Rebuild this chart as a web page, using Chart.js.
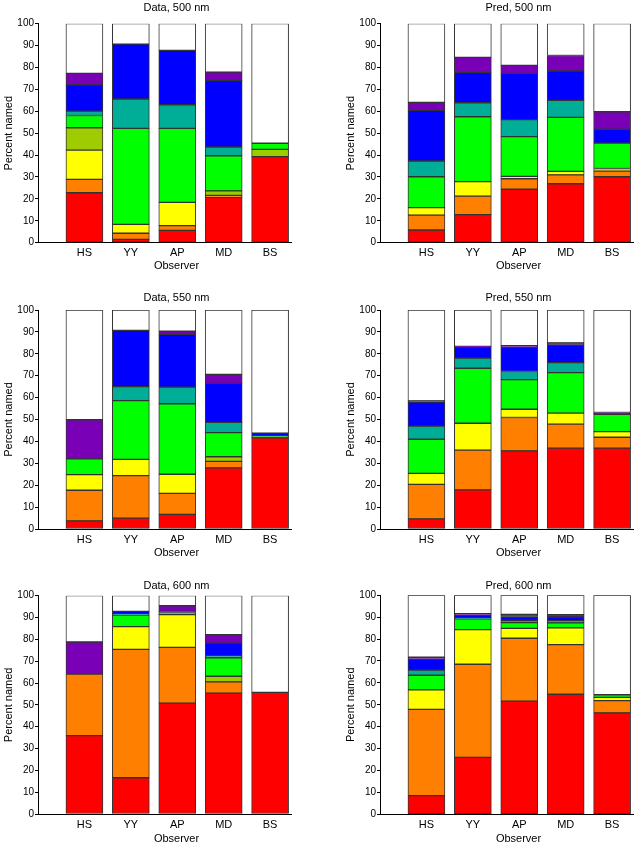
<!DOCTYPE html>
<html>
<head>
<meta charset="utf-8">
<script src="https://cdn.jsdelivr.net/npm/chart.js@4.4.0/dist/chart.umd.min.js"></script>
<style>
  body { margin: 0; background: #fff; width: 634px; height: 851px; position: relative; overflow: hidden; }
  canvas { position: absolute; }
</style>
</head>
<body>
<script>
// observers on the x axis
const observers = ['HS', 'YY', 'AP', 'MD', 'BS'];
const yTickStep = 10;

// colour names, bottom of the stack first
const colourNames = ['red', 'orange', 'yellow', 'yellowgreen', 'green', 'teal', 'blue', 'purple', 'white'];
const colours = ['#ff0000', '#ff8000', '#ffff00', '#9fcc00', '#00ff00', '#00ad97', '#0000ff', '#7a00b8', '#ffffff'];

// percent named, one row per colour (same order as colourNames), columns HS YY AP MD BS
const data500 = [
  [22.8, 1.5, 5.6, 20.7, 39.3],
  [6.1, 2.8, 2.2, 0.9, 0],
  [13.4, 4.1, 10.6, 0, 0],
  [10.2, 0, 0, 2.1, 3.3],
  [5.6, 43.8, 33.8, 16.0, 2.8],
  [2.0, 13.4, 10.8, 4.0, 0],
  [12.0, 25.1, 24.8, 30.3, 0],
  [5.2, 0, 0, 3.9, 0],
  [22.7, 9.3, 12.2, 22.1, 54.6]
];
const pred500 = [
  [5.8, 12.8, 24.4, 26.9, 30.1],
  [6.8, 8.5, 4.8, 4.1, 2.6],
  [3.4, 6.6, 1.1, 1.6, 1.2],
  [0, 0, 0, 0, 0],
  [14.1, 29.6, 18.1, 24.6, 11.6],
  [7.2, 6.4, 7.8, 7.8, 0],
  [23.1, 13.9, 21.1, 13.4, 6.3],
  [3.7, 6.8, 3.7, 7.1, 8.0],
  [35.9, 15.4, 19.0, 14.5, 40.2]
];
const data550 = [
  [3.7, 5.0, 6.7, 27.9, 41.6],
  [14.0, 19.4, 9.6, 3.0, 0],
  [7.1, 7.4, 8.7, 0, 0],
  [0, 0, 0, 2.1, 0],
  [7.2, 26.8, 32.2, 11.0, 1.0],
  [0, 6.4, 7.6, 4.7, 0],
  [0, 25.7, 24.1, 17.8, 1.2],
  [17.9, 0, 1.4, 4.1, 0],
  [50.1, 9.3, 9.7, 29.4, 56.2]
];
const pred550 = [
  [4.6, 17.9, 35.7, 36.9, 36.9],
  [15.8, 18.1, 15.2, 11.0, 5.0],
  [5.0, 12.3, 3.8, 5.0, 2.6],
  [0, 0, 0, 0, 0],
  [15.6, 25.1, 13.5, 18.5, 7.9],
  [6.0, 4.6, 3.7, 4.6, 0],
  [10.9, 5.1, 11.1, 8.0, 0.4],
  [0.6, 0.3, 0.7, 1.0, 0.4],
  [41.5, 16.6, 16.3, 15.0, 46.8]
];
const data600 = [
  [35.9, 16.6, 50.8, 55.4, 55.7],
  [28.2, 58.8, 25.5, 5.1, 0],
  [0, 10.4, 15.0, 0, 0],
  [0, 0, 0, 2.6, 0],
  [0, 5.3, 1.0, 8.4, 0],
  [0, 0.5, 0.5, 1.0, 0],
  [0, 1.2, 0, 5.8, 0],
  [14.7, 0, 2.6, 3.8, 0],
  [21.2, 7.2, 4.6, 17.9, 44.3]
];
const pred600 = [
  [8.5, 26.0, 51.7, 54.8, 46.3],
  [39.4, 42.5, 28.7, 22.7, 5.6],
  [8.9, 15.8, 4.5, 7.6, 1.5],
  [0, 0, 0, 0, 0],
  [6.7, 4.9, 2.6, 2.3, 1.2],
  [2.3, 0.5, 1.1, 1.0, 0],
  [5.0, 1.2, 1.7, 1.7, 0],
  [0.9, 0.7, 1.0, 1.1, 0],
  [28.3, 8.4, 8.7, 8.8, 45.4]
];

const FONT = '"Liberation Sans", Arial, Helvetica, sans-serif';
Chart.defaults.font.family = FONT;
Chart.defaults.color = '#000';

// where each panel sits on the page (axis x, plot top/bottom, gap title->plot, xlabel below axis)
const panels = [
  { title: 'Data, 500 nm', rows: data500, axisX: 38,  top: 23.7,  bottom: 242.7, gap: 15.4, xl: 23.5 },
  { title: 'Pred, 500 nm', rows: pred500, axisX: 380, top: 23.7,  bottom: 242.7, gap: 15.4, xl: 23.5 },
  { title: 'Data, 550 nm', rows: data550, axisX: 38,  top: 310,   bottom: 529,   gap: 12.5, xl: 24 },
  { title: 'Pred, 550 nm', rows: pred550, axisX: 380, top: 310,   bottom: 529,   gap: 12.5, xl: 24 },
  { title: 'Data, 600 nm', rows: data600, axisX: 38,  top: 595.7, bottom: 814,   gap: 9.4,  xl: 25 },
  { title: 'Pred, 600 nm', rows: pred600, axisX: 380, top: 595.3, bottom: 814.3, gap: 9.4,  xl: 25 }
];

const Y_AXIS_W = 38;
const X_AXIS_H = 32;
const PLOT_W = 253;
const TEXT_SHIFT = 12; // titles sit a little right of the plot centre

// title above and "Observer" below, both centred a bit right of the axes
const panelText = {
  id: 'panelText',
  afterDraw(chart, args, opts) {
    const { ctx, chartArea } = chart;
    const cx = (chartArea.left + chartArea.right) / 2 + TEXT_SHIFT;
    ctx.save();
    ctx.fillStyle = '#000';
    ctx.font = '11px ' + FONT;
    ctx.textAlign = 'center';
    ctx.textBaseline = 'middle';
    ctx.fillText(opts.title, cx, chartArea.top - opts.gap);
    ctx.fillText('Observer', cx, chartArea.bottom + opts.xl);
    ctx.restore();
  }
};

panels.forEach(p => {
  const cv = document.createElement('canvas');
  const left = p.axisX - Y_AXIS_W;
  const top = Math.round(p.top - p.gap - 8.6);
  const width = Math.min(634 - left, Y_AXIS_W + PLOT_W + 9);
  const height = Math.round(p.bottom + X_AXIS_H - top);
  cv.width = width; cv.height = height;
  cv.style.left = left + 'px';
  cv.style.top = top + 'px';
  document.body.appendChild(cv);

  const bottomPad = height - (p.bottom + X_AXIS_H - top);

  new Chart(cv, {
    type: 'bar',
    data: {
      datasets: p.rows.map((row, i) => ({
        label: colourNames[i],
        data: row.map((v, j) => ({ x: j + 1, y: v })),
        backgroundColor: colours[i],
        borderColor: '#333',
        borderWidth: 1,
        borderSkipped: false,
        barThickness: 37
      }))
    },
    plugins: [panelText],
    options: {
      responsive: false,
      animation: false,
      layout: { padding: { left: 0, right: width - Y_AXIS_W - PLOT_W, top: p.top - top, bottom: bottomPad } },
      plugins: {
        legend: { display: false },
        tooltip: { enabled: false },
        title: { display: false },
        panelText: { title: p.title, gap: p.gap, xl: p.xl }
      },
      scales: {
        x: {
          type: 'linear',
          stacked: true,
          offset: false,
          min: 0,
          max: 5.45,
          afterFit: s => { s.height = X_AXIS_H; },
          afterBuildTicks: s => { s.ticks = observers.map((o, i) => ({ value: i + 1 })); },
          ticks: {
            autoSkip: false,
            maxRotation: 0,
            padding: 4,
            font: { size: 11 },
            callback: v => observers[v - 1] || ''
          },
          grid: { display: false, drawTicks: false, offset: false },
          border: { color: '#000', width: 1 }
        },
        y: {
          stacked: true,
          min: 0,
          max: 100,
          afterFit: s => { s.width = Y_AXIS_W; },
          ticks: { stepSize: yTickStep, padding: 1, font: { size: 10 } },
          grid: { drawOnChartArea: false, drawTicks: true, tickLength: 3, color: '#000' },
          border: { color: '#000', width: 1 },
          title: { display: true, text: 'Percent named', font: { size: 11 }, padding: { top: 2, bottom: 0 } }
        }
      }
    }
  });
});
</script>
</body>
</html>
